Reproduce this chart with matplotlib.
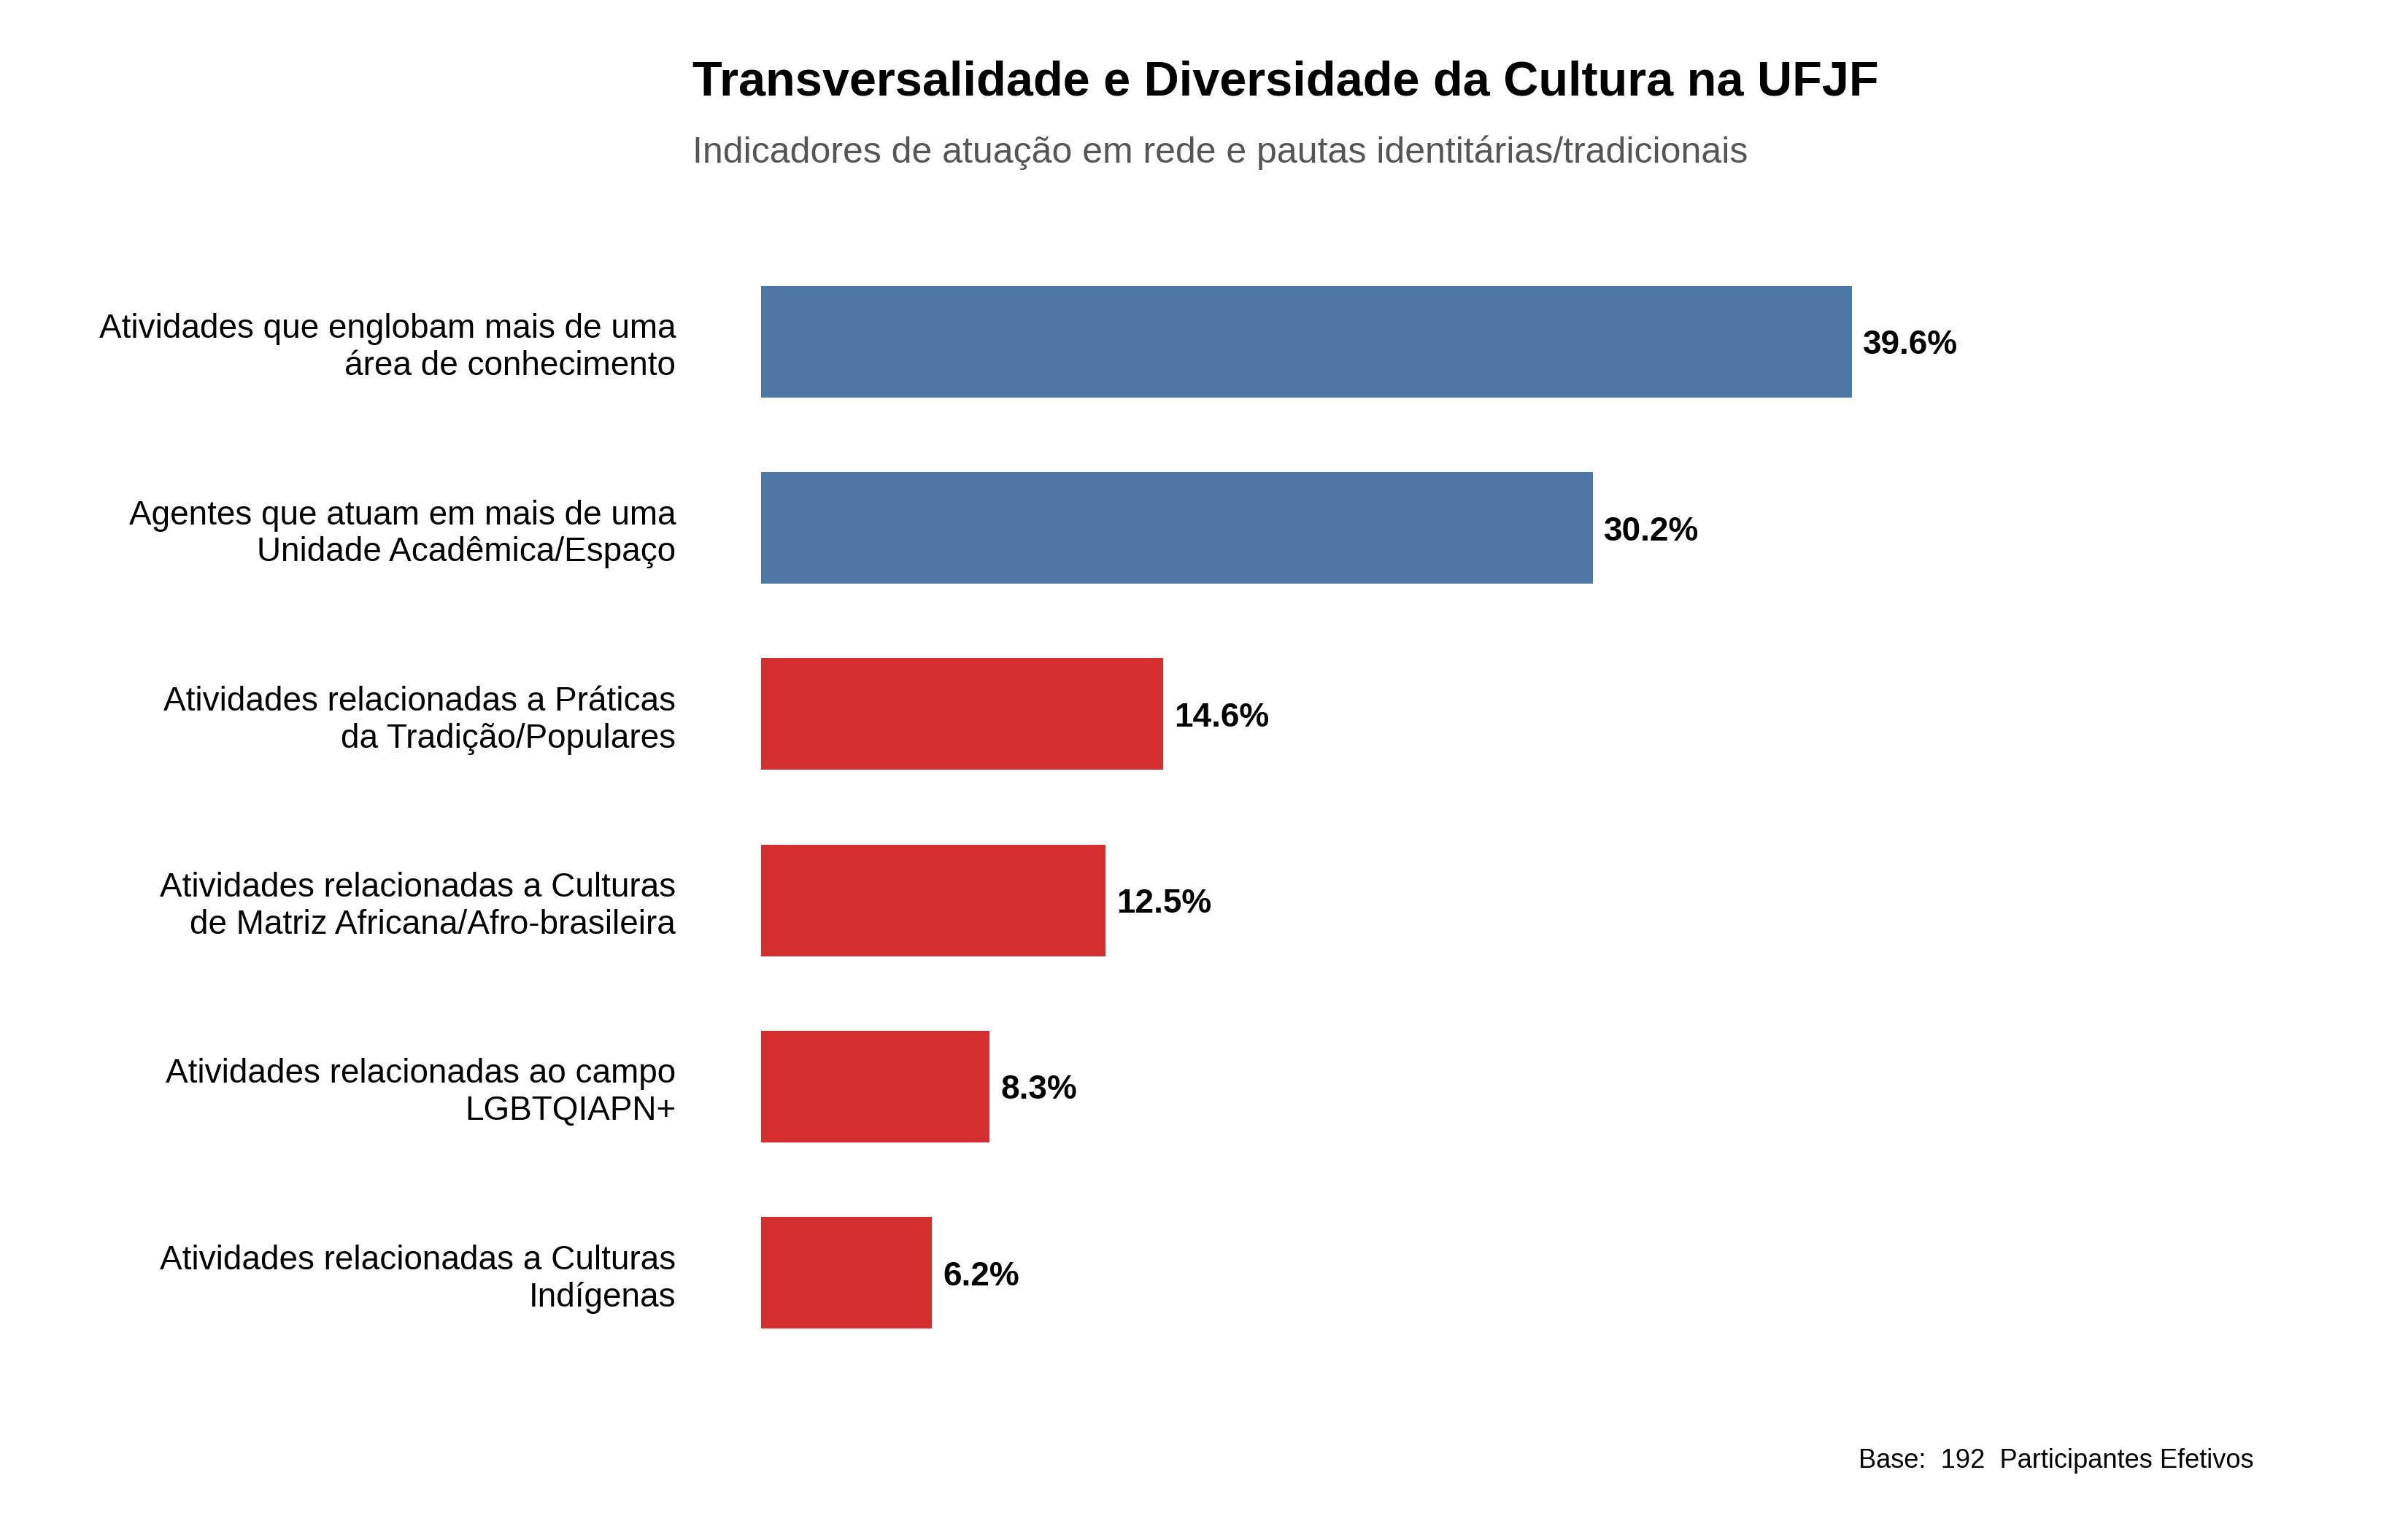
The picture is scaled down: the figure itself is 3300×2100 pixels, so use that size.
import matplotlib
matplotlib.use('Agg')
import matplotlib.pyplot as plt

plt.rcParams['font.family'] = ['Liberation Sans', 'DejaVu Sans']

# Dados do gráfico
categorias = [
    'Atividades que englobam mais de uma\nárea de conhecimento',
    'Agentes que atuam em mais de uma\nUnidade Acadêmica/Espaço',
    'Atividades relacionadas a Práticas\nda Tradição/Populares',
    'Atividades relacionadas a Culturas\nde Matriz Africana/Afro-brasileira',
    'Atividades relacionadas ao campo\nLGBTQIAPN+',
    'Atividades relacionadas a Culturas\nIndígenas',
]
percentuais = [39.6, 30.2, 14.6, 12.5, 8.3, 6.2]
grupos = ['rede', 'rede', 'identidade', 'identidade', 'identidade', 'identidade']
base_total = 192

cores_grupo = {'rede': '#4E79A7', 'identidade': '#D32F2F'}
cores = [cores_grupo[g] for g in grupos]

fig = plt.figure(figsize=(11, 7), dpi=300)
ax = fig.add_axes([0.316, 0.0962, 0.515, 0.7538])

pos = list(range(len(categorias)))
ax.barh(pos, percentuais, height=0.6, color=cores)

# Rótulos de valor
for y, v in zip(pos, percentuais):
    ax.text(v + 0.4, y, f'{v:.1f}%', va='center_baseline', ha='left',
            fontsize=11, fontweight='bold', color='black')

ax.set_yticks(pos)
ax.set_yticklabels(categorias, fontsize=11)
ax.tick_params(axis='y', length=0, pad=28)
ax.set_ylim(len(categorias) - 0.4, -0.6)
ax.set_xlim(0, 45)
ax.set_xticks([])
for s in ax.spines.values():
    s.set_visible(False)

# Título e subtítulo
fig.text(0.2876, 0.938, 'Transversalidade e Diversidade da Cultura na UFJF',
         fontsize=16, fontweight='bold', ha='left', va='baseline')
fig.text(0.2876, 0.894, 'Indicadores de atuação em rede e pautas identitárias/tradicionais',
         fontsize=12, color='#555555', ha='left', va='baseline')

# Nota de base
fig.text(0.936, 0.042, f'Base:  {base_total}  Participantes Efetivos',
         fontsize=8.7, ha='right', va='baseline')

fig.savefig('out.png', dpi=300, facecolor='white')
